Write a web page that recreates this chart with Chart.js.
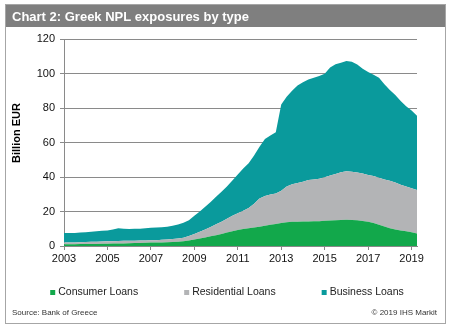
<!DOCTYPE html>
<html>
<head>
<meta charset="utf-8">
<script src="https://cdn.jsdelivr.net/npm/chart.js@4/dist/chart.umd.min.js"></script>
<style>
  html, body { margin: 0; padding: 0; background: #fff; }
  #wrap { width: 452px; height: 331px; position: relative; }
</style>
</head>
<body>
<div id="wrap"><canvas id="c" width="452" height="331"></canvas></div>
<script>
// Quarterly periods (year fraction), 2003 Q1 – 2019 Q2
const periods = [
  2003.00, 2003.25, 2003.50, 2003.75, 2004.00, 2004.25, 2004.50, 2004.75,
  2005.00, 2005.25, 2005.50, 2005.75, 2006.00, 2006.25, 2006.50, 2006.75,
  2007.00, 2007.25, 2007.50, 2007.75, 2008.00, 2008.25, 2008.50, 2008.75,
  2009.00, 2009.25, 2009.50, 2009.75, 2010.00, 2010.25, 2010.50, 2010.75,
  2011.00, 2011.25, 2011.50, 2011.75, 2012.00, 2012.25, 2012.50, 2012.75,
  2013.00, 2013.25, 2013.50, 2013.75, 2014.00, 2014.25, 2014.50, 2014.75,
  2015.00, 2015.25, 2015.50, 2015.75, 2016.00, 2016.25, 2016.50, 2016.75,
  2017.00, 2017.25, 2017.50, 2017.75, 2018.00, 2018.25, 2018.50, 2018.75,
  2019.00, 2019.25
];

// Billion EUR
const consumerLoans = [
  1.0, 1.0, 1.0, 1.1, 1.1, 1.2, 1.2, 1.3,
  1.3, 1.4, 1.5, 1.5, 1.6, 1.7, 1.8, 1.9,
  2.0, 2.0, 2.1, 2.2, 2.3, 2.5, 2.8, 3.2,
  3.8, 4.4, 5.0, 5.6, 6.3, 7.0, 7.8, 8.6,
  9.3, 9.8, 10.3, 10.7, 11.2, 11.8, 12.3, 12.8,
  13.4, 13.8, 14.0, 14.1, 14.2, 14.2, 14.3, 14.3,
  14.6, 14.8, 15.0, 15.1, 15.2, 15.1, 14.9, 14.5,
  14.0, 13.3, 12.3, 11.3, 10.3, 9.6, 9.0, 8.5,
  8.0, 7.3
];

const residentialLoans = [
  1.0, 1.0, 1.1, 1.1, 1.2, 1.2, 1.3, 1.3,
  1.4, 1.4, 1.4, 1.5, 1.4, 1.4, 1.4, 1.3,
  1.3, 1.4, 1.5, 1.6, 1.7, 1.8, 2.0, 2.6,
  3.2, 3.9, 4.5, 5.4, 6.3, 7.0, 8.0, 8.9,
  9.7, 10.7, 11.7, 13.8, 16.3, 17.2, 17.5, 17.7,
  18.6, 20.7, 21.8, 22.4, 23.1, 24.0, 24.2, 24.7,
  25.2, 26.0, 26.8, 27.7, 28.1, 27.9, 27.7, 27.5,
  27.2, 27.3, 27.3, 27.3, 27.5, 27.2, 26.5, 26.0,
  25.5, 25.2
];

const businessLoans = [
  5.5, 5.6, 5.4, 5.6, 5.7, 5.9, 6.0, 6.2,
  6.3, 6.7, 7.4, 7.0, 6.8, 6.9, 6.8, 7.1,
  7.3, 7.3, 7.3, 7.4, 7.7, 8.1, 8.7, 9.2,
  10.5, 11.7, 13.3, 14.5, 15.9, 17.5, 18.7, 20.5,
  22.5, 24.5, 26.0, 28.0, 30.0, 33.0, 34.2, 35.5,
  50.0, 52.0, 54.2, 56.5, 57.7, 58.3, 59.0, 59.5,
  60.0, 62.7, 63.5, 63.5, 64.0, 63.8, 62.6, 60.8,
  59.6, 58.7, 57.9, 55.2, 52.7, 50.7, 48.5, 46.5,
  45.0, 43.0
];

const tickYears = [2003, 2005, 2007, 2009, 2011, 2013, 2015, 2017, 2019];

const seriesNames = ['Consumer Loans', 'Residential Loans', 'Business Loans'];
const seriesColors = ['#12a84b', '#b3b4b6', '#0a9a9c'];

const toPoints = vals => vals.map((v, i) => ({ x: periods[i], y: v }));

const FONT = '"Liberation Sans", Arial, sans-serif';

// Frame, title bar, axis title, legend and source line
const decorations = {
  id: 'decorations',
  beforeDraw(chart) {
    const ctx = chart.ctx;
    ctx.save();
    ctx.fillStyle = '#ffffff';
    ctx.fillRect(0, 0, chart.width, chart.height);
    // title bar
    ctx.fillStyle = '#7f7f7f';
    ctx.fillRect(6, 5, 439, 22);
    ctx.fillStyle = '#ffffff';
    ctx.font = 'bold 13px ' + FONT;
    ctx.textBaseline = 'alphabetic';
    ctx.textAlign = 'left';
    ctx.fillText('Chart 2: Greek NPL exposures by type', 12, 21);
    // outer frame
    ctx.strokeStyle = '#a6a6a6';
    ctx.lineWidth = 1;
    ctx.strokeRect(5.5, 4.5, 440, 319);
    ctx.restore();
  },
  afterDraw(chart) {
    const ctx = chart.ctx;
    ctx.save();
    // y-axis title
    ctx.translate(17, 133);
    ctx.rotate(-Math.PI / 2);
    ctx.fillStyle = '#000';
    ctx.font = 'bold 11px ' + FONT;
    ctx.textAlign = 'center';
    ctx.textBaseline = 'middle';
    ctx.fillText('Billion EUR', 0, 0);
    ctx.restore();

    // legend
    ctx.save();
    ctx.font = '10.5px ' + FONT;
    ctx.textBaseline = 'middle';
    ctx.textAlign = 'left';
    const box = 5, boxGap = 3, itemGap = 46, ly = 292.5;
    const items = chart.data.datasets.map(ds => ({
      label: ds.label, color: ds.backgroundColor,
      w: box + boxGap + ctx.measureText(ds.label).width
    }));
    const total = items.reduce((s, it) => s + it.w, 0) + itemGap * (items.length - 1);
    let lx = 227 - total / 2;
    items.forEach(it => {
      ctx.fillStyle = it.color;
      ctx.fillRect(lx, ly - box / 2, box, box);
      ctx.fillStyle = '#222';
      ctx.fillText(it.label, lx + box + boxGap, ly);
      lx += it.w + itemGap;
    });
    // source and copyright
    ctx.font = '8px ' + FONT;
    ctx.fillStyle = '#333';
    ctx.textBaseline = 'alphabetic';
    ctx.fillText('Source: Bank of Greece', 12, 315);
    ctx.textAlign = 'right';
    ctx.fillText('\u00A9 2019 IHS Markit', 437, 315);
    ctx.restore();
  }
};

new Chart(document.getElementById('c'), {
  type: 'line',
  data: {
    datasets: [
      { label: seriesNames[0], data: toPoints(consumerLoans), backgroundColor: seriesColors[0], fill: 'origin' },
      { label: seriesNames[1], data: toPoints(residentialLoans), backgroundColor: seriesColors[1], fill: '-1' },
      { label: seriesNames[2], data: toPoints(businessLoans), backgroundColor: seriesColors[2], fill: '-1' }
    ].map(ds => Object.assign(ds, { borderWidth: 0, pointRadius: 0, tension: 0, borderColor: ds.backgroundColor }))
  },
  options: {
    responsive: false,
    animation: false,
    events: [],
    layout: { padding: { left: 0, right: 35, top: 39, bottom: 65 } },
    plugins: { legend: { display: false }, title: { display: false }, tooltip: { enabled: false } },
    scales: {
      x: {
        type: 'linear',
        min: 2003,
        max: 2019.25,
        afterBuildTicks: scale => { scale.ticks = tickYears.map(v => ({ value: v })); },
        afterFit: scale => { scale.height = 20; },
        ticks: {
          autoSkip: false,
          maxRotation: 0,
          padding: 2,
          color: '#111',
          font: { family: FONT, size: 11 },
          callback: v => String(v)
        },
        grid: { drawOnChartArea: false, drawTicks: true, tickLength: 4, color: '#888' },
        border: { display: true, color: '#888' }
      },
      y: {
        stacked: true,
        min: 0,
        max: 120,
        afterFit: scale => { scale.width = 64; },
        ticks: {
          stepSize: 20,
          padding: 5,
          color: '#111',
          font: { family: FONT, size: 11 }
        },
        grid: { color: '#8a8a8a', lineWidth: 1, drawTicks: true, tickLength: 4 },
        border: { display: true, color: '#8a8a8a' }
      }
    }
  },
  plugins: [decorations]
});
</script>
</body>
</html>
